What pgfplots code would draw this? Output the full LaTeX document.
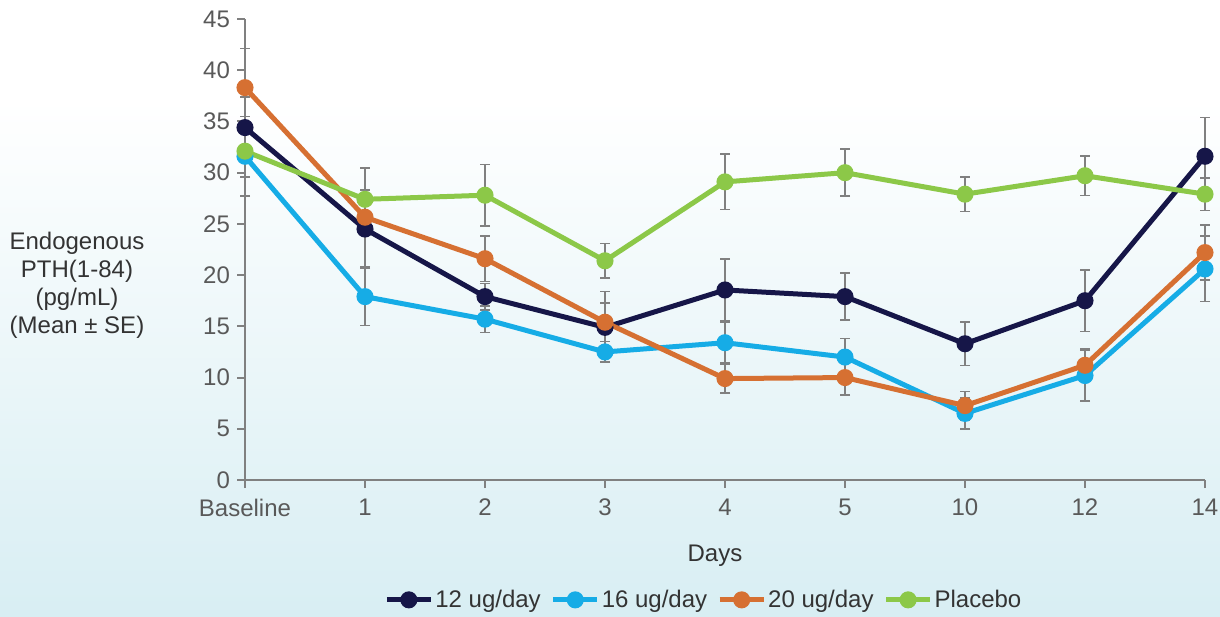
\documentclass[border=0pt]{standalone}
\usepackage{pgfplots}
\pgfplotsset{compat=1.18}
\usepackage{fontspec}
\setmainfont{Liberation Sans}
\definecolor{cnavy}{RGB}{22,22,72}
\definecolor{ccyan}{RGB}{22,172,230}
\definecolor{corange}{RGB}{214,112,50}
\definecolor{cgreen}{RGB}{140,200,72}
\definecolor{bgblue}{RGB}{216,238,243}
\definecolor{txtgray}{RGB}{89,89,89}
\definecolor{axgray}{RGB}{128,128,128}
\begin{document}
\begin{tikzpicture}[x=1pt,y=1pt]
\useasboundingbox (0,0) rectangle (610,308);
\fill[white] (0,0) rectangle (610,308);
\shade[top color=white, bottom color=bgblue] (0,0) rectangle (610,258);
\begin{axis}[
  at={(122.5pt,68pt)}, anchor=south west,
  scale only axis, width=480pt, height=230.5pt,
  xmin=0, xmax=8, ymin=0, ymax=45,
  xtick={0,...,8}, xticklabels={Baseline,1,2,3,4,5,10,12,14},
  ytick={0,5,...,45},
  axis x line*=bottom, axis y line*=left,
  axis line style={-, axgray, line width=1pt},
  tick align=outside, major tick length=4pt,
  tick style={axgray, line width=1pt},
  /pgf/number format/assume math mode=true,
  tick label style={font=\fontsize{12}{14}\selectfont, text=txtgray},
  xticklabel style={yshift=-2pt},
  clip=false,
  every axis plot/.append style={line width=2.5pt, mark=*, mark size=3pt},
  error bars/error bar style={axgray, line width=0.75pt},
  error bars/error mark options={rotate=90, mark size=2.5pt, axgray, line width=0.75pt},
  legend style={at={(0.479,-0.26)}, anchor=center, draw=none, fill=none,
     font=\fontsize{12}{14}\selectfont, text=black!80,
     /tikz/every even column/.append style={column sep=3pt},
     /tikz/every odd column/.append style={column sep=-1pt}},
  legend columns=4,
  legend image code/.code={\draw[mark repeat=2,mark phase=2,#1] plot coordinates {(0pt,0pt) (11pt,0pt) (22pt,0pt)};},
]
\addplot[cnavy, mark options={fill=cnavy}, error bars/.cd, y dir=both, y explicit] coordinates {
(0,34.4) +- (0,3.0)
(1,24.5) +- (0,3.8)
(2,17.9) +- (0,1.3)
(3,14.9) +- (0,2.4)
(4,18.55) +- (0,3.0)
(5,17.9) +- (0,2.3)
(6,13.3) +- (0,2.1)
(7,17.5) +- (0,3.0)
(8,31.6) +- (0,3.8)
};
\addlegendentry{12 ug/day}
\addplot[ccyan, mark options={fill=ccyan}, error bars/.cd, y dir=both, y explicit] coordinates {
(0,31.6) +- (0,3.9)
(1,17.9) +- (0,2.8)
(2,15.7) +- (0,1.3)
(3,12.5) +- (0,1.0)
(4,13.4) +- (0,2.0)
(5,12.0) +- (0,1.8)
(6,6.5) +- (0,1.5)
(7,10.2) +- (0,2.5)
(8,20.6) +- (0,3.2)
};
\addlegendentry{16 ug/day}
\addplot[corange, mark options={fill=corange}, error bars/.cd, y dir=both, y explicit] coordinates {
(0,38.3) +- (0,3.8)
(1,25.65) +- (0,4.8)
(2,21.6) +- (0,2.2)
(3,15.4) +- (0,3.0)
(4,9.9) +- (0,1.4)
(5,10.0) +- (0,1.7)
(6,7.26) +- (0,1.4)
(7,11.2) +- (0,1.6)
(8,22.2) +- (0,2.7)
};
\addlegendentry{20 ug/day}
\addplot[cgreen, mark options={fill=cgreen}, error bars/.cd, y dir=both, y explicit] coordinates {
(0,32.1) +- (0,2.5)
(1,27.4) +- (0,3.0)
(2,27.8) +- (0,3.0)
(3,21.4) +- (0,1.7)
(4,29.1) +- (0,2.7)
(5,30.0) +- (0,2.3)
(6,27.9) +- (0,1.7)
(7,29.7) +- (0,1.95)
(8,27.9) +- (0,1.6)
};
\addlegendentry{Placebo}
\end{axis}
\node[text=black!80, font=\fontsize{12}{14}\selectfont] at (357.5,30) {Days};
\node[text=black!80, font=\fontsize{12}{14}\selectfont, align=center] at (38.5,165.5) {Endogenous\\PTH(1-84)\\(pg/mL)\\(Mean ± SE)};
\end{tikzpicture}
\end{document}
